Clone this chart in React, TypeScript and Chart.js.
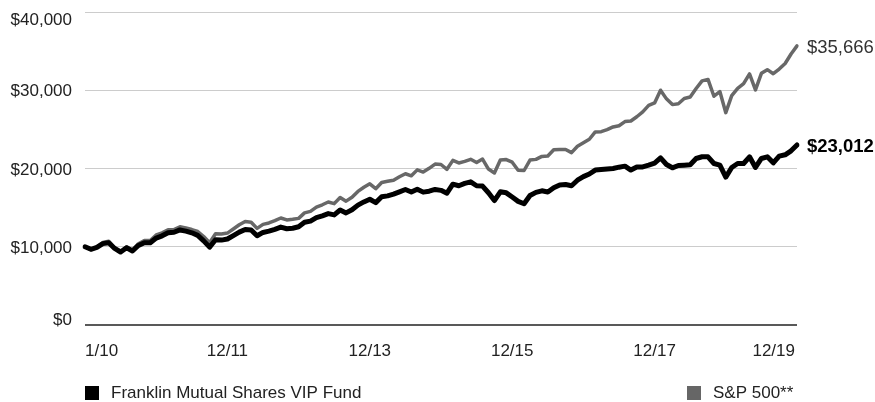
import React, { useEffect, useRef } from 'react';
import { Chart, registerables } from 'chart.js';

Chart.register(...registerables);

// Month categories: start point (1/10) followed by 120 month-ends 1/10 .. 12/19
const monthLabels: string[] = ['1/10'];
for (let yr = 10; yr <= 19; yr++) {
  for (let m = 1; m <= 12; m++) monthLabels.push(`${m}/${yr}`);
}

const xTickIndexes = [0, 24, 48, 72, 96, 120];
const xTickLabels = ['1/10', '12/11', '12/13', '12/15', '12/17', '12/19'];

const yTickValues = [0, 10000, 20000, 30000, 40000];
const yTickLabels = ['$0', '$10,000', '$20,000', '$30,000', '$40,000'];

const fundName = 'Franklin Mutual Shares VIP Fund';
const indexName = 'S&P 500**';
const fundEndLabel = '$23,012';
const indexEndLabel = '$35,666';

const fundValues = [
  10000,
  9674, 9910, 10399, 10518, 9783, 9328, 9865, 9467, 10166, 10520, 10510, 11108,
  11400, 11800, 11850, 12150, 12000, 11780, 11450, 10750, 9950, 10900, 10850, 10993,
  11431, 11870, 12215, 12139, 11400, 11830, 11990, 12230, 12510, 12300, 12370, 12552,
  13124, 13281, 13720, 13953, 14240, 14072, 14702, 14327, 14723, 15319, 15730, 16071,
  15640, 16380, 16500, 16720, 17020, 17320, 17000, 17360, 16980, 17100, 17320, 17207,
  16850, 18000, 17800, 18100, 18300, 17800, 17750, 16900, 15900, 17020, 16890, 16355,
  15800, 15500, 16550, 16950, 17150, 17000, 17550, 17900, 17950, 17800, 18500, 18960,
  19300, 19800, 19870, 19950, 20000, 20170, 20300, 19800, 20200, 20200, 20430, 20700,
  21360, 20510, 20090, 20380, 20430, 20480, 21280, 21500, 21490, 20640, 20430, 18900,
  20130, 20640, 20640, 21490, 20130, 21280, 21490, 20720, 21580, 21750, 22260, 23012,
];

const indexValues = [
  10000,
  9640, 9939, 10538, 10705, 9849, 9334, 9988, 9538, 10389, 10784, 10785, 11505,
  11778, 12182, 12187, 12548, 12406, 12199, 11951, 11302, 10507, 11655, 11629, 11748,
  12274, 12804, 13225, 13142, 12352, 12861, 13040, 13333, 13677, 13424, 13502, 13625,
  14331, 14526, 15071, 15362, 15721, 15510, 16300, 15827, 16324, 17075, 17596, 18041,
  17417, 18213, 18366, 18502, 18937, 19329, 19062, 19825, 19547, 20024, 20563, 20512,
  19897, 21041, 20709, 20908, 21178, 20767, 21203, 19925, 19433, 21073, 21136, 20802,
  19770, 19744, 21083, 21165, 21546, 21602, 22397, 22428, 22433, 22025, 22840, 23292,
  23735, 24677, 24707, 24961, 25313, 25470, 25995, 26075, 26612, 27232, 28068, 28380,
  30006, 28899, 28165, 28272, 28953, 29133, 30217, 31202, 31380, 29234, 29830, 27136,
  29310, 30251, 30838, 32087, 30049, 32167, 32630, 32115, 32715, 33425, 34639, 35666,
];

const FONT = '"Liberation Sans", Arial, Helvetica, sans-serif';
const FUND_COLOR = '#000000';
const INDEX_COLOR = '#686868';
const TEXT_COLOR = '#222222';

const textPlugin = {
  id: 'textOverlay',
  afterDraw(chart: any) {
    const { ctx } = chart;
    const xs = chart.scales.x;
    const ys = chart.scales.y;
    ctx.save();
    ctx.fillStyle = TEXT_COLOR;
    ctx.font = `17px ${FONT}`;
    ctx.textBaseline = 'middle';

    // y tick labels
    ctx.textAlign = 'right';
    yTickValues.forEach((v, i) => {
      const py = ys.getPixelForValue(v);
      const off = i === yTickValues.length - 1 ? 8 : i === 0 ? -5 : 1.5;
      ctx.fillText(yTickLabels[i], 72, py + off);
    });

    // x tick labels
    xTickIndexes.forEach((idx, i) => {
      ctx.textAlign = i === 0 ? 'left' : i === xTickIndexes.length - 1 ? 'right' : 'center';
      const px = xs.getPixelForValue(idx);
      ctx.fillText(xTickLabels[i], i === xTickIndexes.length - 1 ? px - 2 : px, 351);
    });

    // end labels
    const last = indexValues.length - 1;
    const lx = xs.getPixelForValue(last) + 10;
    ctx.textAlign = 'left';
    ctx.font = `18.5px ${FONT}`;
    ctx.fillStyle = '#333333';
    ctx.fillText(indexEndLabel, lx, ys.getPixelForValue(indexValues[last]) + 1.5);
    ctx.font = `bold 18.5px ${FONT}`;
    ctx.fillStyle = '#000000';
    ctx.fillText(fundEndLabel, lx, ys.getPixelForValue(fundValues[last]) + 1.5);

    // legend
    ctx.font = `17px ${FONT}`;
    ctx.fillStyle = FUND_COLOR;
    ctx.fillRect(85, 386, 14, 14);
    ctx.fillStyle = TEXT_COLOR;
    ctx.fillText(fundName, 111, 393);
    ctx.fillStyle = '#666666';
    ctx.fillRect(687, 386, 14, 14);
    ctx.fillStyle = TEXT_COLOR;
    ctx.fillText(indexName, 713, 393);
    ctx.restore();
  },
};

export default function App() {
  const canvasRef = useRef<HTMLCanvasElement | null>(null);

  useEffect(() => {
    document.body.style.margin = '0';
    const canvas = canvasRef.current;
    if (!canvas) return;
    const chart = new Chart(canvas, {
      type: 'line',
      data: {
        labels: monthLabels,
        datasets: [
          {
            label: fundName,
            data: fundValues,
            borderColor: FUND_COLOR,
            backgroundColor: FUND_COLOR,
            borderWidth: 5,
            pointRadius: 0,
            tension: 0,
            borderJoinStyle: 'round',
            borderCapStyle: 'round',
          },
          {
            label: indexName,
            data: indexValues,
            borderColor: INDEX_COLOR,
            backgroundColor: INDEX_COLOR,
            borderWidth: 3.5,
            pointRadius: 0,
            tension: 0,
            borderJoinStyle: 'round',
            borderCapStyle: 'round',
          },
        ],
      },
      options: {
        animation: false,
        responsive: false,
        maintainAspectRatio: false,
        devicePixelRatio: 1,
        layout: { padding: { left: 0, right: 78, top: 12, bottom: 0 } },
        plugins: { legend: { display: false }, tooltip: { enabled: false } },
        scales: {
          x: {
            type: 'category',
            grid: { display: false, drawTicks: false },
            border: { display: false },
            ticks: { display: false },
            afterFit: (s: any) => {
              s.height = 77;
              s.paddingLeft = 0;
              s.paddingRight = 0;
            },
          },
          y: {
            min: 0,
            max: 40000,
            ticks: { display: false, stepSize: 10000 },
            border: { display: false },
            grid: {
              drawTicks: false,
              color: (c: any) => (c.tick && c.tick.value === 0 ? '#595959' : '#cccccc'),
              lineWidth: (c: any) => (c.tick && c.tick.value === 0 ? 2 : 1),
            },
            afterFit: (s: any) => {
              s.width = 85;
              s.paddingTop = 0;
              s.paddingBottom = 0;
            },
          },
        },
      } as any,
      plugins: [textPlugin],
    });
    return () => chart.destroy();
  }, []);

  return (
    <div style={{ width: 875, height: 402, position: 'relative' }}>
      <canvas ref={canvasRef} width={875} height={402} style={{ display: 'block' }} />
    </div>
  );
}
